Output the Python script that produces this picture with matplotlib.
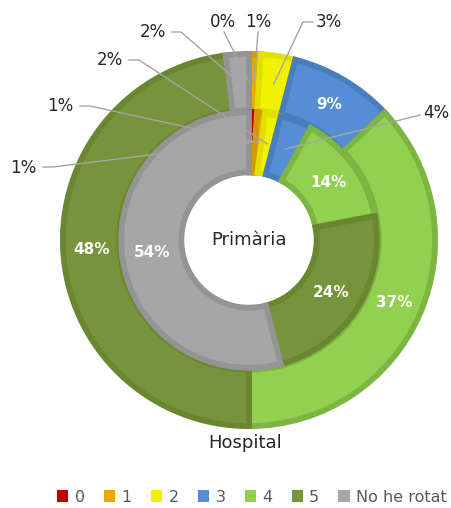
import matplotlib
matplotlib.use("Agg")
import matplotlib.pyplot as plt
from matplotlib.patches import Patch
import numpy as np

categories = ["0", "1", "2", "3", "4", "5", "No he rotat"]
hospital = [0, 1, 3, 9, 37, 48, 2]      # outer ring
primaria = [1, 1, 2, 4, 14, 24, 54]     # inner ring

fills = ["#C00000", "#EDA800", "#F2F200", "#558ED5", "#92D050", "#77933C", "#A6A6A6"]
edges = ["#A50000", "#D89800", "#E0E000", "#4A7EBB", "#7CB542", "#69872F", "#949494"]

W, H = 452, 508
fig = plt.figure(figsize=(W / 100, H / 100), dpi=100)
ax = fig.add_axes([0, 0, 1, 1])
S = 188.0
cx, cy = 249, 240

R_out, w_out = 0.99, 0.30
R_in, w_in = 0.68, 0.32

def ring(values, radius, width):
    wedges, _ = ax.pie(values, radius=radius, startangle=90, counterclock=False,
                       colors=fills, normalize=True,
                       wedgeprops=dict(width=width, linewidth=4.2))
    for wdg, ec in zip(wedges, edges):
        wdg.set_edgecolor(ec)
    return wedges

ring(hospital, R_out, w_out)
ring(primaria, R_in, w_in)

ax.set_aspect("auto")
ax.set_xlim(-cx / S, (W - cx) / S)
ax.set_ylim(-(H - cy) / S, cy / S)
ax.axis("off")

def anchor(values, i, r):
    tot = sum(values)
    start = sum(values[:i]) / tot
    mid = (start + values[i] / tot / 2) * 2 * np.pi
    return r * np.sin(mid), r * np.cos(mid)

def px(x, y):
    return (x - cx) / S, (cy - y) / S

r_mid_out = R_out - w_out / 2
r_mid_in = R_in - w_in / 2

# inside labels (white, bold)
inside = [(hospital, 3, r_mid_out), (hospital, 4, r_mid_out), (hospital, 5, r_mid_out),
          (primaria, 4, r_mid_in), (primaria, 5, r_mid_in), (primaria, 6, r_mid_in)]
for vals, i, r in inside:
    x, y = anchor(vals, i, r)
    ax.text(x, y, f"{vals[i]}%", ha="center", va="center", color="white",
            fontsize=11, fontweight="bold")

lc = "#A6A6A6"
# outside labels: (values, idx, ring radius, text pixel pos, ha, line start px, elbow px)
outside = [
    (hospital, 0, r_mid_out, (223, 22), "center", (224, 32), None),
    (hospital, 1, r_mid_out, (258, 22), "center", (258, 32), None),
    (hospital, 2, r_mid_out, (329, 22), "center", (313, 22), (303, 22)),
    (hospital, 6, r_mid_out, (153, 32), "center", (172, 32), (181, 32)),
    (primaria, 2, r_mid_in, (110, 60), "center", (129, 60), (139, 60)),
    (primaria, 1, r_mid_in, (60, 106), "center", (80, 106), (90, 106)),
    (primaria, 0, r_mid_in, (23, 168), "center", (43, 167), (53, 167)),
    (primaria, 3, r_mid_in, (436, 113), "center", (420, 115), None),
]
for vals, i, r, tpos, ha, lstart, elbow in outside:
    tx, ty = px(*tpos)
    ax.text(tx, ty, f"{vals[i]}%", ha=ha, va="center", color="#262626", fontsize=12)
    axp, ayp = anchor(vals, i, r)
    pts = [px(*lstart)]
    if elbow is not None:
        pts.append(px(*elbow))
    pts.append((axp, ayp))
    xs, ys = zip(*pts)
    ax.plot(xs, ys, color=lc, lw=1.0, zorder=5)

ax.text(0, 0, "Primària", ha="center", va="center", fontsize=13, color="#262626")
hx, hy = px(245, 443)
ax.text(hx, hy, "Hospital", ha="center", va="center", fontsize=13, color="#262626")

handles = [Patch(facecolor=f, edgecolor="none") for f in fills]
fig.legend(handles, categories, loc="center", bbox_to_anchor=(252 / W, 1 - 497 / H),
           ncol=7, frameon=False, fontsize=11.5, handlelength=0.7, handleheight=0.7,
           handletextpad=0.4, columnspacing=1.2, labelcolor="#595959")

fig.savefig("out.png", dpi=100)
